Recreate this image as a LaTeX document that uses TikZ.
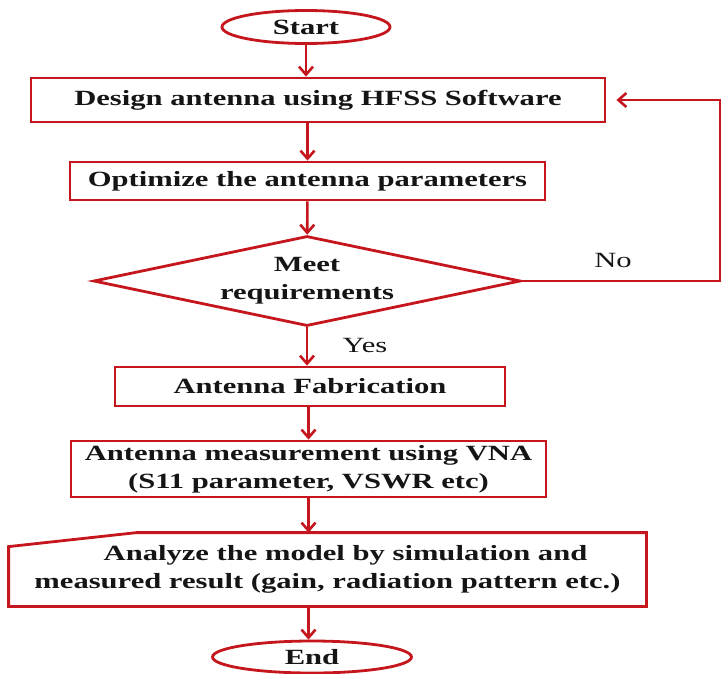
\documentclass[tikz,border=0pt]{standalone}
\usepackage{fontspec}
\setmainfont[FakeStretch=1.41]{Liberation Serif}
\usepackage{xcolor}
\definecolor{flowred}{HTML}{C4161C}
\definecolor{flowink}{HTML}{151515}
\usepackage{tikz}
\usetikzlibrary{shapes.geometric, arrows.meta, positioning, calc}
\newcommand{\flowfont}{\fontsize{21.7}{28}\selectfont}

\begin{document}
\begin{tikzpicture}[x=1pt, y=-1pt,
  font=\flowfont, text=flowink,
  stepbox/.style={draw=flowred, line width=2.8pt, rectangle, inner sep=0pt,
                  align=center, font=\flowfont\bfseries},
  termbox/.style={draw=flowred, line width=2.8pt, ellipse, inner sep=0pt,
                  font=\flowfont\bfseries},
  testbox/.style={draw=flowred, line width=2.8pt, diamond, aspect=4.7,
                  inner sep=0pt, align=center, font=\flowfont\bfseries},
  flow/.style={draw=flowred, line width=2.6pt,
               -{Straight Barb[length=8pt, width=14pt]}}]
  \useasboundingbox (0,0) rectangle (722,673);

  % main column of steps
  \node[termbox, minimum width=168pt, minimum height=33pt] (start) at (306,27) {Start};
  \node[stepbox, minimum width=574pt, minimum height=44pt] (design) at (318,100)
    {Design antenna using HFSS Software};
  \node[stepbox, minimum width=475pt, minimum height=38pt] (optimize) at (307.5,181)
    {Optimize the antenna parameters};
  \node[testbox, minimum width=427pt, minimum height=90pt] (meet) at (307,281)
    {Meet\\requirements};
  \node[stepbox, minimum width=390pt, minimum height=39pt] (fab) at (310,386.5)
    {Antenna Fabrication};
  \node[stepbox, minimum width=475pt, minimum height=56pt] (vna) at (308.5,469)
    {Antenna measurement using VNA\\(S11 parameter, VSWR etc)};
  \node[stepbox, draw=none, minimum width=635pt, minimum height=71pt] (analyze) at (327.5,569.5)
    {\hspace*{36pt}Analyze the model by simulation and\\measured result (gain, radiation pattern etc.)};
  \node[termbox, minimum width=199pt, minimum height=32pt] (stop) at (312,657) {End};

  % manual input outline round the analysis step
  \draw[flowred, line width=2.8pt]
    (analyze.south west) -- (analyze.south east) -- (analyze.north east)
    -- ([xshift=128pt]analyze.north west) -- ([yshift=-14pt]analyze.north west) -- cycle;

  % arrows down the column
  \draw[flow] (start) -- (start |- design.north);
  \draw[flow] (design.south -| optimize) -- (optimize);
  \draw[flow] (optimize) -- (meet);
  \draw[flow] (meet) -- (meet |- fab.north);
  \draw[flow] (fab.south -| vna) -- (vna);
  \draw[flow] (vna) -- (vna |- analyze.north);
  \draw[flow] (analyze.south -| vna) -- (vna |- stop.north);

  % back to the design step
  \coordinate (loop) at (720,281);
  \draw[flow] (meet.east) -- (loop) |- ([xshift=10pt]design.east);

  \node (no) at (613,260) {No};
  \node (yes) at (365,345) {Yes};
\end{tikzpicture}
\end{document}
